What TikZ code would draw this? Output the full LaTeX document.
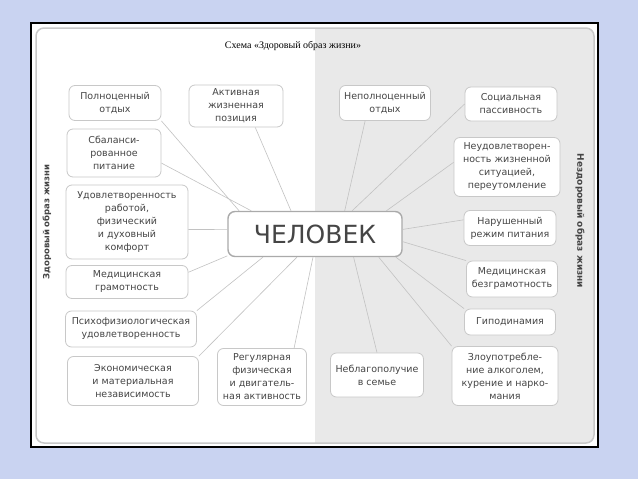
\documentclass[tikz,border=0pt]{standalone}
\usepackage{fontspec}
\setmainfont{DejaVu Sans}
\newfontfamily\titlefont{Liberation Serif}
\usepackage{tikz}
\definecolor{Sky}{HTML}{C9D3F1}
\definecolor{Edge}{HTML}{C8C8C8}
\definecolor{Shade}{HTML}{E9E9E9}
\definecolor{Ink}{HTML}{454545}
\definecolor{Wire}{HTML}{C2C2C2}
\tikzset{
  factor/.style={
    draw=Edge, fill=white, rounded corners=6pt, line width=.8pt,
    align=center, text=Ink, inner sep=2pt,
    font=\fontsize{9.5}{13}\selectfont
  },
  wh/.style 2 args={minimum width=#1pt,minimum height=#2pt},
  core/.style={factor,draw=Edge!85!black,line width=1.4pt,rounded corners=7pt,
    font=\fontsize{25}{30}\selectfont},
  side/.style={font=\bfseries\fontsize{9}{11}\selectfont,text=Ink},
  link/.style={draw=Wire,line width=.6pt}
}

\begin{document}
\begin{tikzpicture}[x=1pt,y=-1pt]
  \useasboundingbox (0,0) rectangle (638,479);
  \fill[Sky] (0,0) rectangle (638,479);
  % frame and panel
  \fill[white] (31,23) rectangle (598,447);
  \begin{scope}
    \clip[rounded corners=8pt] (36,28) rectangle (594,443);
    \fill[Shade] (315,28) rectangle (594,443);
  \end{scope}
  \draw[Edge,line width=1.5pt,rounded corners=8pt] (36,28) rectangle (594,443);
  \draw[black,line width=2pt] (31,23) rectangle (598,447);

  \node[font=\titlefont\fontsize{10}{12}\selectfont] (title) at (293,46) {Схема «Здоровый образ жизни»};
  \node[side,rotate=90,font=\bfseries\fontsize{8.5}{10}\selectfont] (healthy) at (47,222) {Здоровый образ жизни};
  \node[side,rotate=-90] (unhealthy) at (580,221) {Нездоровый образ жизни};

  \node[core,wh={174}{45}] (chel) at (315,234) {ЧЕЛОВЕК};

  % healthy side
  \node[factor,wh={92}{35}] (fullrest) at (115,103) {Полноценный\\отдых};
  \node[factor,wh={94}{42}] (active) at (236,106) {Активная\\жизненная\\позиция};
  \node[factor,wh={94}{48}] (balance) at (114,153) {Сбаланси-\\рованное\\питание};
  \node[factor,wh={122}{74}] (satisf) at (127,222) {Удовлетворенность\\работой,\\физический\\и духовный\\комфорт};
  \node[factor,wh={122}{33}] (medlit) at (127,282) {Медицинская\\грамотность};
  \node[factor,wh={131}{36}] (psycho) at (131,329) {Психофизиологическая\\удовлетворенность};
  \node[factor,wh={131}{49}] (econ) at (133,381) {Экономическая\\и материальная\\независимость};
  \node[factor,wh={89}{57}] (sport) at (262,377) {Регулярная\\физическая\\и двигатель-\\ная активность};

  % unhealthy side
  \node[factor,wh={91}{35}] (nofull) at (385,103) {Неполноценный\\отдых};
  \node[factor,wh={92}{34}] (passive) at (511,104) {Социальная\\пассивность};
  \node[factor,wh={106}{59}] (tired) at (507,167) {Неудовлетворен-\\ность жизненной\\ситуацией,\\переутомление};
  \node[factor,wh={92}{35}] (diet) at (510,228) {Нарушенный\\режим питания};
  \node[factor,wh={91}{36}] (medill) at (512,279) {Медицинская\\безграмотность};
  \node[factor,wh={91}{26}] (hypo) at (510,322) {Гиподинамия};
  \node[factor,wh={106}{59}] (addict) at (505,376) {Злоупотребле-\\ние алкоголем,\\курение и нарко-\\мания};
  \node[factor,wh={93}{44}] (family) at (377,375) {Неблагополучие\\в семье};

  \draw[link] (fullrest.south east) -- (chel.163);
  \draw[link] (balance.348) -- (chel.160);
  \draw[link] (active.312) -- (chel.136);
  \draw[link] (satisf.353) -- (chel.177);
  \draw[link] (medlit.9) -- (chel.194);
  \draw[link] (psycho.north east) -- (chel.204);
  \draw[link] (econ.north east) -- (chel.232);
  \draw[link] (sport.42) -- (chel.265);
  \draw[link] (nofull.222) -- (chel.38);
  \draw[link] (passive.west) -- (chel.32);
  \draw[link] (tired.175) -- (chel.18);
  \draw[link] (diet.170) -- (chel.3);
  \draw[link] (medill.north west) -- (chel.355);
  \draw[link] (hypo.north west) -- (chel.344);
  \draw[link] (addict.north west) -- (chel.340);
  \draw[link] (family.north) -- (chel.329);
\end{tikzpicture}
\end{document}
